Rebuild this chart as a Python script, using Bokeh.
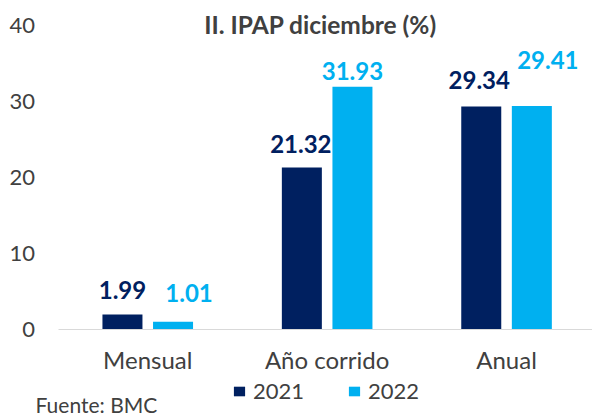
from bokeh.plotting import figure
from bokeh.models import ColumnDataSource, Range1d, FixedTicker, Label, Legend, LegendItem
from bokeh.transform import dodge
from bokeh.core.properties import value
from bokeh.embed import file_html
from bokeh.resources import INLINE

# ---- data ----
categories = ["Mensual", "Año corrido", "Anual"]
series_names = ["2021", "2022"]
values_2021 = [1.99, 21.32, 29.34]
values_2022 = [1.01, 31.93, 29.41]
y_ticks = [0, 10, 20, 30, 40]
title_text = "II. IPAP diciembre (%)"
source_text = "Fuente: BMC"

# ---- style ----
NAVY = "#002060"
SKY = "#00B0F0"
TEXT = "#404040"
FONT = "Lato"
BAR_W = 0.223
OFF = 0.141
# manual label nudges in px (as placed in the original)
dx_2021 = [0, -1, -2]
dy_2021 = [24, 23.5, 26.5]
dx_2022 = [16, 0, 16]
dy_2022 = [28.5, 15.5, 45.5]

W, H = 592, 416
PX_PER_CAT = 179.4
PX_PER_UNIT = 7.6
CAT0_PX = 147.25      # screen x of first category centre
BASE_PX = 329         # screen y of value 0 (from top)

idx = list(range(len(categories)))
src = ColumnDataSource(dict(
    x=idx,
    v2021=values_2021,
    v2022=values_2022,
    t2021=[f"{v:.2f}" for v in values_2021],
    t2022=[f"{v:.2f}" for v in values_2022],
    dx1=dx_2021, dy1=[-d for d in dy_2021],
    dx2=dx_2022, dy2=[-d for d in dy_2022],
))

x0 = -CAT0_PX / PX_PER_CAT
p = figure(width=W, height=H, output_backend="svg", toolbar_location=None,
           x_range=Range1d(x0, x0 + W / PX_PER_CAT),
           y_range=Range1d(-(H - BASE_PX) / PX_PER_UNIT, BASE_PX / PX_PER_UNIT),
           min_border_left=0, min_border_right=0, min_border_top=0,
           min_border_bottom=0)
p.outline_line_color = None
p.background_fill_color = "white"
p.border_fill_color = "white"
p.xgrid.grid_line_color = None
p.ygrid.grid_line_color = None

r1 = p.vbar(x=dodge("x", -OFF, range=p.x_range), top="v2021", width=BAR_W,
            source=src, fill_color=NAVY, line_color=None)
r2 = p.vbar(x=dodge("x", OFF, range=p.x_range), top="v2022", width=BAR_W,
            source=src, fill_color=SKY, line_color=None)

p.text(x=dodge("x", -OFF, range=p.x_range), y="v2021", text="t2021",
       x_offset="dx1", y_offset="dy1", source=src,
       text_align="center", text_baseline="middle", text_color=NAVY,
       text_font=value(FONT), text_font_style="bold", text_font_size="24px")
p.text(x=dodge("x", OFF, range=p.x_range), y="v2022", text="t2022",
       x_offset="dx2", y_offset="dy2", source=src,
       text_align="center", text_baseline="middle", text_color=SKY,
       text_font=value(FONT), text_font_style="bold", text_font_size="24px")

# axes drawn inside the frame at fixed positions
p.xaxis.fixed_location = 0
p.xaxis.bounds = (-0.5, x0 + W / PX_PER_CAT)
p.xaxis.ticker = FixedTicker(ticks=idx)
p.xaxis.major_label_overrides = {i: c for i, c in enumerate(categories)}
p.xaxis.axis_line_color = "#D9D9D9"
p.xaxis.axis_line_width = 1
p.xaxis.major_tick_line_color = None
p.xaxis.minor_tick_line_color = None
p.xaxis.major_tick_out = 0
p.xaxis.major_tick_in = 0
p.xaxis.major_label_standoff = 15
p.xaxis.major_label_text_font = FONT
p.xaxis.major_label_text_font_size = "24px"
p.xaxis.major_label_text_color = TEXT

p.yaxis.fixed_location = -0.5
p.yaxis.ticker = FixedTicker(ticks=y_ticks)
p.yaxis.axis_line_color = None
p.yaxis.major_tick_line_color = None
p.yaxis.minor_tick_line_color = None
p.yaxis.major_tick_out = 0
p.yaxis.major_tick_in = 0
p.yaxis.major_label_standoff = 23
p.yaxis.major_label_text_font = FONT
p.yaxis.major_label_text_font_size = "22px"
p.yaxis.major_label_text_color = TEXT

# title and source
p.add_layout(Label(x=320, y=H - 24, x_units="screen", y_units="screen",
                   text=title_text, text_align="center", text_baseline="middle",
                   text_font=FONT, text_font_style="bold", text_font_size="24.5px",
                   text_color=TEXT))
p.add_layout(Label(x=35, y=H - 404, x_units="screen", y_units="screen",
                   text=source_text, text_align="left", text_baseline="middle",
                   text_font=FONT, text_font_size="21px", text_color=TEXT))

legend = Legend(items=[LegendItem(label=series_names[0], renderers=[r1]),
                       LegendItem(label=series_names[1], renderers=[r2])],
                location=(232, 12), orientation="horizontal",
                glyph_width=14, glyph_height=12, label_standoff=7, spacing=43,
                padding=0, margin=0, border_line_color=None,
                background_fill_alpha=0,
                label_text_font=FONT, label_text_font_size="22px",
                label_text_color=TEXT)
p.add_layout(legend, "center")

open("out.html", "w").write(file_html(p, INLINE))
